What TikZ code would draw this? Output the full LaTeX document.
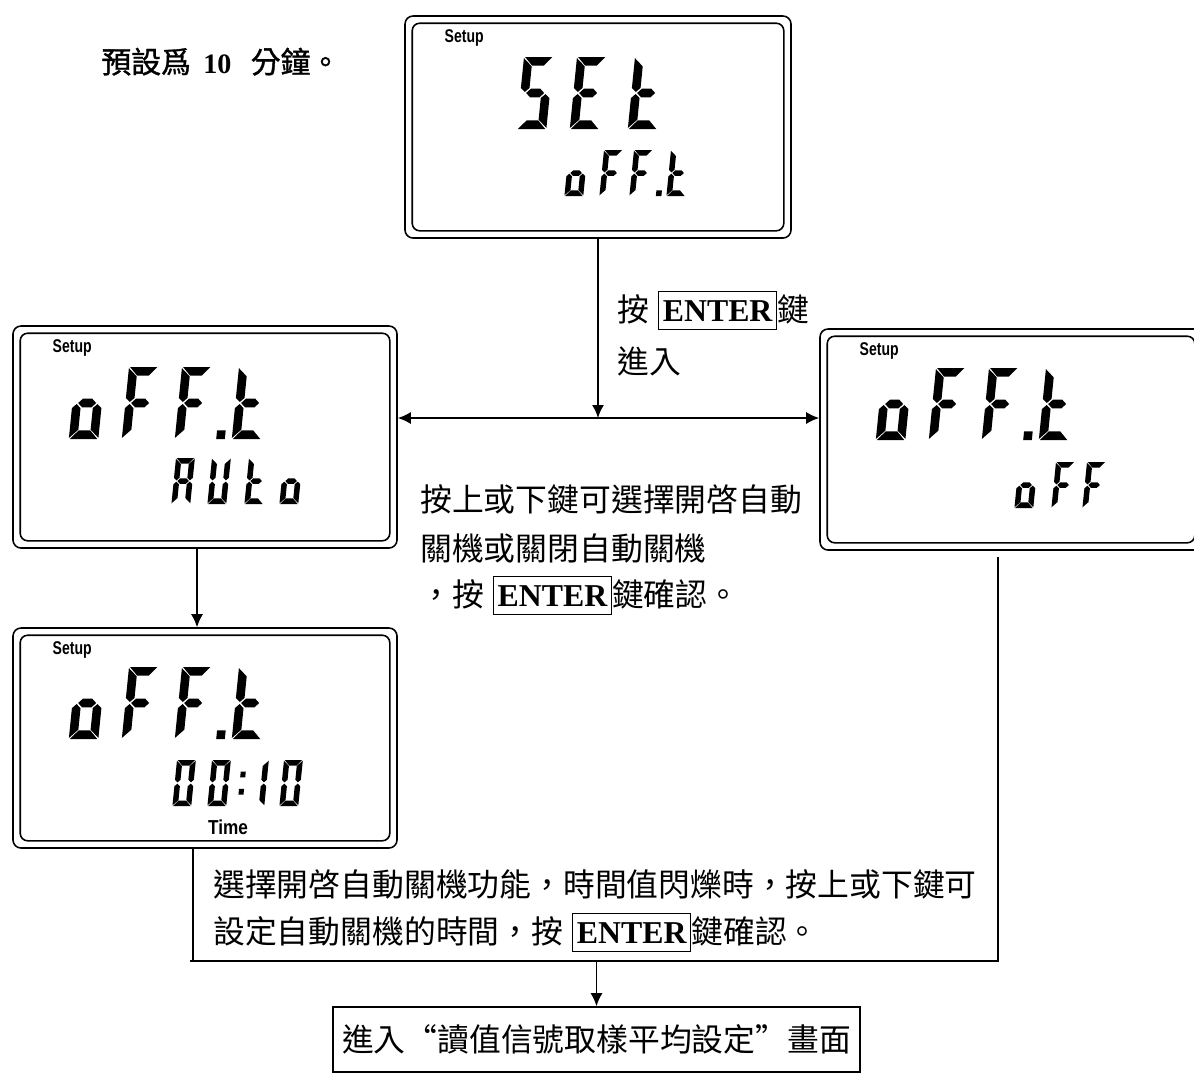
\documentclass[tikz,border=0pt]{standalone}
\usepackage{graphicx}
\usepackage{fontspec}
\setmainfont{Noto Sans CJK TC}
\newfontfamily\cjkbold{Noto Sans CJK TC}[FakeBold=1.2]
\newfontfamily\timesfont{Liberation Serif}
\newfontfamily\arialfont{Liberation Sans}
\usetikzlibrary{arrows.meta,fit,calc}

\setlength{\fboxsep}{2pt}
\setlength{\fboxrule}{0.8pt}
\newcommand{\enterkey}{\fbox{\rule[-2.5pt]{0pt}{17pt}\timesfont\bfseries ENTER}}

% LCD segments, char cell 0.82 x 2
\newcommand{\lcdsega}{\fill (0.03,0) -- (0.79,0) -- (0.57,0.24) -- (0.25,0.24) -- cycle;}
\newcommand{\lcdsegd}{\fill (0.03,2) -- (0.79,2) -- (0.57,1.76) -- (0.25,1.76) -- cycle;}
\newcommand{\lcdsegg}{\fill (0.16,1) -- (0.28,0.88) -- (0.54,0.88) -- (0.66,1) -- (0.54,1.12) -- (0.28,1.12) -- cycle;}
\newcommand{\lcdsegf}{\fill (0,0.03) -- (0.24,0.26) -- (0.24,0.86) -- (0.12,0.97) -- (0,0.86) -- cycle;}
\newcommand{\lcdsege}{\fill (0,1.97) -- (0.24,1.74) -- (0.24,1.14) -- (0.12,1.03) -- (0,1.14) -- cycle;}
\newcommand{\lcdsegb}{\fill (0.82,0.03) -- (0.58,0.26) -- (0.58,0.86) -- (0.70,0.97) -- (0.82,0.86) -- cycle;}
\newcommand{\lcdsegc}{\fill (0.82,1.97) -- (0.58,1.74) -- (0.58,1.14) -- (0.70,1.03) -- (0.82,1.14) -- cycle;}
\newcommand{\lcdsegp}{\fill (1.15,1.76) rectangle (1.39,2);}
\newcommand{\lcdsegq}{\fill (1.3,0.5) rectangle (1.52,0.75) (1.3,1.25) rectangle (1.52,1.5);}

\newcommand{\lcdchar}[3]{%
  \begin{scope}[shift={(#1)}, scale=#2, xslant=0.1]
    \foreach \s in {#3} {\csname lcdseg\s\endcsname}
  \end{scope}}

\newcommand{\lcdpanel}[3]{%
  \node[lcd, fit={(#2) (#3)}] (#1) {};
  \draw[lcdin] ([shift={(8,8)}]#1.north west) rectangle ([shift={(-8,-8)}]#1.south east);
  \node[lcdlabel] (#1-setup) at ([shift={(60,23)}]#1.north west) {\scalebox{0.76}[1]{Setup}};}

\begin{document}
\begin{tikzpicture}[x=0.2mm, y=-0.2mm,
    lcd/.style={draw, line width=0.9pt, rounded corners=1.6mm, inner sep=0pt},
    lcdin/.style={line width=0.9pt, rounded corners=1.5mm},
    lcdlabel/.style={inner sep=0pt, font=\arialfont\bfseries\fontsize{10.5}{11}\selectfont},
    txt/.style={anchor=base west, inner sep=0pt, font=\fontsize{18.1}{20}\selectfont},
    line/.style={line width=0.9pt},
    arr/.style={line width=0.9pt, -{Latex[length=2.6mm, width=2.4mm]}},
    darr/.style={line width=0.9pt, {Latex[length=2.6mm, width=2.4mm]}-{Latex[length=2.6mm, width=2.4mm]}}]
  \useasboundingbox (0,0) rectangle (1194,1073);
  \clip (0,0) rectangle (1194,1073);

  \node[txt, font=\fontsize{17}{20}\selectfont] (note) at (101,73)
    {{\cjkbold 預設爲}\hspace{7pt}{\timesfont\bfseries\fontsize{16}{16}\selectfont 10}\hspace{11pt}{\cjkbold 分鐘。}};

  % SEt / oFF.t
  \lcdpanel{set}{405,16}{791,238}
  \lcdchar{524,57}{36}{a,f,g,c,d}
  \lcdchar{577,57}{36}{a,f,g,e,d}
  \lcdchar{635,57}{36}{f,e,g,d}
  \lcdchar{569,150}{23}{c,d,e,g}
  \lcdchar{604,150}{23}{a,f,e,g}
  \lcdchar{634,150}{23}{a,f,e,g,p}
  \lcdchar{671,150}{23}{f,e,g,d}

  % oFF.t / AUto
  \lcdpanel{auto}{13,326}{397,548}
  \lcdchar{76,367}{36}{c,d,e,g}
  \lcdchar{129,367}{36}{a,f,e,g}
  \lcdchar{182,367}{36}{a,f,e,g,p}
  \lcdchar{239,367}{36}{f,e,g,d}
  \lcdchar{176,458}{23}{a,b,c,e,f,g}
  \lcdchar{212,458}{23}{b,c,d,e,f}
  \lcdchar{249,458}{23}{f,e,g,d}
  \lcdchar{284,458}{23}{c,d,e,g}

  % oFF.t / oFF
  \lcdpanel{offr}{820,329}{1202,550}
  \lcdchar{883,368}{36}{c,d,e,g}
  \lcdchar{936,368}{36}{a,f,e,g}
  \lcdchar{989,368}{36}{a,f,e,g,p}
  \lcdchar{1046,368}{36}{f,e,g,d}
  \lcdchar{1019,462}{23}{c,d,e,g}
  \lcdchar{1056,462}{23}{a,f,e,g}
  \lcdchar{1087,462}{23}{a,f,e,g}

  % oFF.t / 00:10
  \lcdpanel{tmr}{13,628}{397,848}
  \lcdchar{76,667}{36}{c,d,e,g}
  \lcdchar{129,667}{36}{a,f,e,g}
  \lcdchar{182,667}{36}{a,f,e,g,p}
  \lcdchar{239,667}{36}{f,e,g,d}
  \lcdchar{177,760}{23}{a,b,c,d,e,f}
  \lcdchar{212,760}{23}{a,b,c,d,e,f,q}
  \lcdchar{250,760}{23}{b,c}
  \lcdchar{284,760}{23}{a,b,c,d,e,f}
  \node[lcdlabel, font=\arialfont\bfseries\fontsize{11.5}{12}\selectfont] (tmr-time) at (228,827) {\scalebox{0.85}[1]{Time}};

  % texts
  \node[txt] (enter1) at (617,321) {按\hspace{5pt}\enterkey 鍵};
  \node[txt] (enter2) at (617,373) {進入};
  \node[txt] (pick1) at (420,511) {按上或下鍵可選擇開啓自動};
  \node[txt] (pick2) at (420,560) {關機或關閉自動關機};
  \node[txt] (pick3) at (420,606) {，按\hspace{5pt}\enterkey 鍵確認。};
  \node[txt] (time1) at (213,896) {選擇開啓自動關機功能，時間值閃爍時，按上或下鍵可};
  \node[txt] (time2) at (213,943) {設定自動關機的時間，按\hspace{5pt}\enterkey 鍵確認。};
  \node[draw, line width=0.9pt, minimum width=105.4mm, minimum height=13mm,
        font=\fontsize{18.1}{20}\selectfont] (done) at (596.5,1039.5) {進入“讀值信號取樣平均設定”畫面};

  % connectors
  \coordinate (split) at (598,418);
  \draw[arr] (set.south) -- (split);
  \draw[darr] (auto.east |- split) -- (offr.west |- split);
  \draw[arr] ([shift={(-8,0)}]auto.south) -- ([shift={(-8,0)}]tmr.north);
  \coordinate (lowl) at (193,961);
  \coordinate (lowr) at (998,961);
  \draw[line] (lowl |- tmr.south) -- (lowl) -- (lowr) -- ($(lowr |- offr.south)+(0,6)$);
  \draw[line] (lowl) -- +(-3,0);
  \draw[arr] (lowl -| done.north) -- (done.north);
\end{tikzpicture}
\end{document}
